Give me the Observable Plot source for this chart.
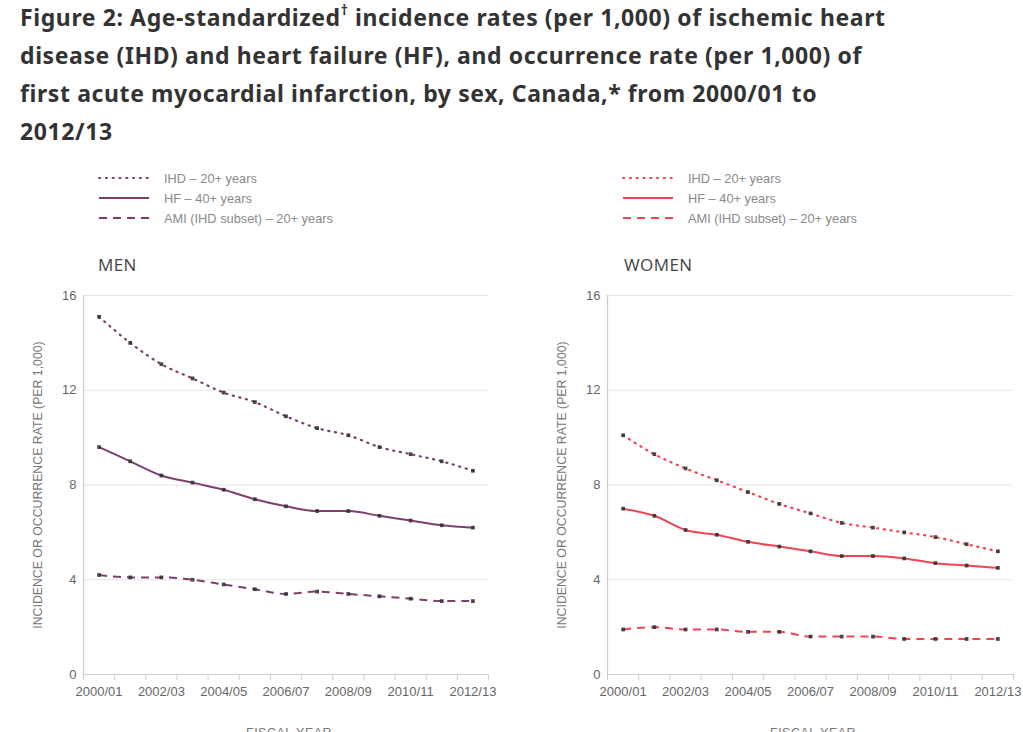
<!DOCTYPE html>
<html>
<head>
<meta charset="utf-8">
<script src="https://cdn.jsdelivr.net/npm/d3@7"></script>
<script src="https://cdn.jsdelivr.net/npm/@observablehq/plot@0.6"></script>
<style>
  html, body { margin: 0; padding: 0; background: #fff; }
  body { width: 1023px; height: 732px; overflow: hidden; position: relative; font-family: "Open Sans", sans-serif; }
  #title { position: absolute; left: 20px; top: -2px; font-family: "Noto Sans", "Open Sans", sans-serif; font-size: 23px; font-weight: 700; line-height: 38px; color: #333; letter-spacing: 0.6px; white-space: nowrap; }
  #title sup { font-size: 14px; line-height: 0; position: relative; top: -2px; }
  .legend { position: absolute; font-family: "Liberation Sans", Arial, sans-serif; font-size: 12.8px; color: #8a8a8a; }
  .legend .row { height: 20px; display: flex; align-items: center; }
  .legend svg { margin-right: 14px; }
  .panel-label { position: absolute; font-size: 17px; color: #444; letter-spacing: 0.4px; }
  .xlab { position: absolute; font-family: "Liberation Sans", Arial, sans-serif; font-size: 12.5px; color: #777; letter-spacing: 0.5px; }
  .chart { position: absolute; top: 285px; }
</style>
</head>
<body>
<div id="title">Figure 2: Age-standardized<sup>†</sup> incidence rates (per 1,000) of ischemic heart<br>disease (IHD) and heart failure (HF), and occurrence rate (per 1,000) of<br>first acute myocardial infarction, by sex, Canada,* from 2000/01 to<br>2012/13</div>
<div id="legMen" class="legend" style="left:98px; top:168px;"></div>
<div id="legWomen" class="legend" style="left:622px; top:168px;"></div>
<div class="panel-label" style="left:98px; top:253px;">MEN</div>
<div class="panel-label" style="left:624px; top:253px;">WOMEN</div>
<div id="men" class="chart" style="left:0px;"></div>
<div id="women" class="chart" style="left:520px;"></div>
<div class="xlab" style="left:246px; top:726px;">FISCAL YEAR</div>
<div class="xlab" style="left:770px; top:726px;">FISCAL YEAR</div>
<script>
// ---- Data ----
const years = ["2000/01","2001/02","2002/03","2003/04","2004/05","2005/06","2006/07","2007/08","2008/09","2009/10","2010/11","2011/12","2012/13"];
const menIHD   = [15.1, 14.0, 13.1, 12.5, 11.9, 11.5, 10.9, 10.4, 10.1, 9.6, 9.3, 9.0, 8.6];
const menHF    = [9.6, 9.0, 8.4, 8.1, 7.8, 7.4, 7.1, 6.9, 6.9, 6.7, 6.5, 6.3, 6.2];
const menAMI   = [4.2, 4.1, 4.1, 4.0, 3.8, 3.6, 3.4, 3.5, 3.4, 3.3, 3.2, 3.1, 3.1];
const womenIHD = [10.1, 9.3, 8.7, 8.2, 7.7, 7.2, 6.8, 6.4, 6.2, 6.0, 5.8, 5.5, 5.2];
const womenHF  = [7.0, 6.7, 6.1, 5.9, 5.6, 5.4, 5.2, 5.0, 5.0, 4.9, 4.7, 4.6, 4.5];
const womenAMI = [1.9, 2.0, 1.9, 1.9, 1.8, 1.8, 1.6, 1.6, 1.6, 1.5, 1.5, 1.5, 1.5];
const seriesNames = ["IHD – 20+ years", "HF – 40+ years", "AMI (IHD subset) – 20+ years"];
const yTicks = [0, 4, 8, 12, 16];
const menColor = "#7d3f6e";
const womenColor = "#f04452";

const dashes = ["1.2,5.6", null, "8,6"];

function rows(values) { return values.map((v, i) => ({i, v, year: years[i]})); }

function panel(el, colour, series, mLeft, mRight, width) {
  const boundaries = d3.range(years.length + 1).map(k => k - 0.5);
  const labelIdx = d3.range(0, years.length, 2);
  const marks = [
    Plot.gridY(yTicks.slice(1), {stroke: "#e4e4e4", strokeOpacity: 1}),
    Plot.ruleY([0], {stroke: "#cfcfcf"}),
    Plot.ruleX([-0.5], {y1: 0, y2: 16, stroke: "#cfcfcf", strokeWidth: 1.3}),
    Plot.axisX(boundaries, {tickSize: 6, stroke: "#cfcfcf", tickFormat: () => "", label: null}),
    Plot.axisX(labelIdx, {tickSize: 0, tickPadding: 12, tickFormat: i => years[i], label: null, fill: "#666", fontSize: 13}),
    Plot.axisY(yTicks, {tickSize: 0, tickPadding: 7, fill: "#666", fontSize: 13, label: null}),
    Plot.axisY({ticks: [], tickSize: 0, label: "INCIDENCE OR OCCURRENCE RATE (PER 1,000)", labelAnchor: "center", labelArrow: "none", labelOffset: 50, fill: "#777", fontSize: 12.3})
  ];
  series.forEach((vals, k) => {
    const opts = {x: "i", y: "v", stroke: colour, strokeWidth: k === 0 ? 2.2 : 2, curve: "monotone-x", strokeLinecap: k === 0 ? "round" : "butt"};
    if (dashes[k]) opts.strokeDasharray = dashes[k];
    marks.push(Plot.line(rows(vals), opts));
    marks.push(Plot.dot(rows(vals), {x: "i", y: "v", symbol: "square", r: 2.1, fill: "#333", fillOpacity: 0.9, stroke: null}));
  });
  const chart = Plot.plot({
    width, height: 447,
    marginTop: 10, marginBottom: 58, marginLeft: mLeft, marginRight: mRight,
    style: {fontFamily: "'Liberation Sans', Arial, sans-serif", fontSize: "12.3px", color: "#777", background: "transparent", overflow: "visible"},
    x: {type: "linear", domain: [-0.5, years.length - 0.5]},
    y: {domain: [0, 16]},
    marks
  });
  document.getElementById(el).appendChild(chart);
}

function legend(el, colour) {
  const box = document.getElementById(el);
  seriesNames.forEach((name, k) => {
    const row = document.createElement("div");
    row.className = "row";
    const dash = dashes[k] ? `stroke-dasharray="${k === 0 ? '1.2,5.6' : '8,6'}"` : "";
    row.innerHTML = `<svg width="52" height="6"><line x1="1" y1="3" x2="51" y2="3" stroke="${colour}" stroke-width="2" stroke-linecap="${k===0?'round':'butt'}" ${dash}></line></svg><span>${name}</span>`;
    box.appendChild(row);
  });
}

legend("legMen", menColor);
legend("legWomen", womenColor);
panel("men", menColor, [menIHD, menHF, menAMI], 83, 12, 500);
panel("women", womenColor, [womenIHD, womenHF, womenAMI], 87, 10, 503);
</script>
</body>
</html>
